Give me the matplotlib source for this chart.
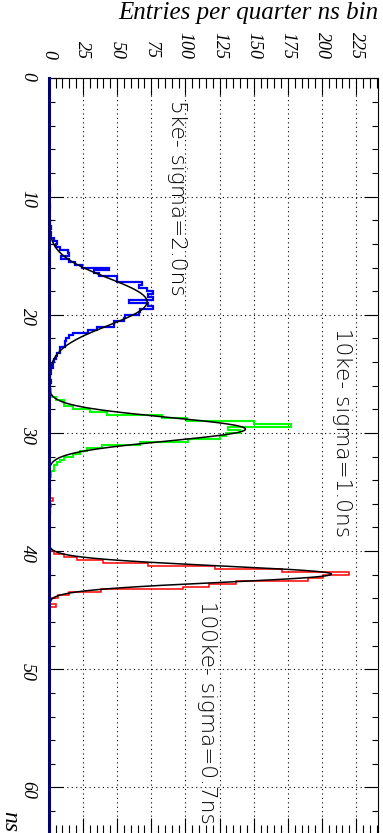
import matplotlib.pyplot as plt
import numpy as np
from matplotlib.ticker import MultipleLocator

# histogram contents, one value per quarter ns bin, starting at t0 (ns)
bin_width = 0.25

t0_5ke = 8.0
counts_5ke = [
    0, 0, 0, 0, 0, 1, 0, 0,
    0, 0, 0, 1, 0, 0, 0, 0,
    1, 0, 2, 1, 2, 1, 4, 6,
    5, 8, 14, 15, 9, 15, 19, 24,
    44, 33, 37, 50, 50, 68, 66, 72,
    76, 73, 76, 59, 73, 76, 67, 66,
    56, 55, 48, 48, 35, 29, 18, 15,
    13, 12, 12, 8, 8, 6, 5, 4,
    3, 3, 2, 2, 1, 1, 2, 1,
    0, 1, 0, 0, 0, 0, 0, 0,
    0, 0, 0, 0, 0, 0, 0, 0,
    0, 0, 0, 0, 0, 0, 1, 0,
    0, 0, 0, 0, 0, 0, 0, 0,
    0, 0, 0, 1, 0, 0, 0, 0,
    0, 0, 1, 0, 0, 0, 0, 0,
]

t0_10ke = 22.0
counts_10ke = [
    0, 0, 0, 0, 0, 0, 1, 0,
    1, 1, 0, 1, 0, 1, 0, 0,
    1, 2, 1, 2, 5, 11, 11, 18,
    30, 43, 83, 101, 150, 177, 131, 140,
    130, 125, 102, 67, 39, 28, 23, 18,
    11, 8, 6, 4, 4, 2, 2, 1,
    1, 0, 0, 1, 0, 0, 0, 0,
    0, 0, 0, 0, 0, 0, 0, 0,
    0, 0, 1, 1, 0, 0, 0, 0,
    0, 0, 0, 0, 1, 1, 0, 0,
]

t0_100ke = 34.0
counts_100ke = [
    0, 0, 0, 0, 0, 0, 3, 1,
    2, 1, 0, 0, 0, 0, 0, 0,
    0, 0, 0, 0, 0, 0, 1, 0,
    4, 11, 21, 40, 73, 122, 171, 220,
    201, 190, 137, 117, 98, 38, 15, 7,
    2, 1, 5, 1, 0, 0, 0, 0,
    0, 0, 0, 0, 0, 0, 0, 1,
]

# gaussian fits: mean (ns), sigma (ns), height (entries)
fit_mean = [18.9, 29.68, 41.95]
fit_sigma = [2.0, 1.0, 0.7]
fit_height = [72, 144, 207]

labels = ["5ke- sigma=2.0ns", "10ke- sigma=1.0ns", "100ke- sigma=0.7ns"]
colors = ["#0000ff", "#00ff00", "#ff0000"]

fig = plt.figure(figsize=(3.83, 8.33), dpi=100)
ax = fig.add_axes([0.1272, -0.002, 0.8598, 0.9078])

hists = [(t0_5ke, counts_5ke), (t0_10ke, counts_10ke), (t0_100ke, counts_100ke)]
widths = [1.6, 1.5, 1.1]
for (t0, c), col, lw in zip(hists, colors, widths):
    c = np.array(c, dtype=float)
    edges = t0 + bin_width * np.arange(len(c) + 1)
    ax.stairs(c, edges, orientation="horizontal", color=col, lw=lw, zorder=3)

for m, s, h in zip(fit_mean, fit_sigma, fit_height):
    t = np.linspace(m - 3.6 * s, m + 3.6 * s, 200)
    ax.plot(h * np.exp(-0.5 * ((t - m) / s) ** 2), t, color="black", lw=1.1, zorder=4)

ax.set_xlim(0, 241)
ax.set_ylim(64, 0)

ax.xaxis.set_major_locator(MultipleLocator(25))
ax.xaxis.set_minor_locator(MultipleLocator(5))
ax.yaxis.set_major_locator(MultipleLocator(10))
ax.yaxis.set_minor_locator(MultipleLocator(2))

ax.tick_params(axis="both", which="both", direction="in", top=True, right=True, width=0.8)
ax.tick_params(axis="x", which="major", length=12, labeltop=True, labelbottom=False,
               labelrotation=-90, pad=14)
ax.tick_params(axis="x", which="minor", length=7)
ax.tick_params(axis="y", which="major", length=10, labelrotation=-90, pad=9)
ax.tick_params(axis="y", which="minor", length=4.5)

for lab in ax.get_xticklabels() + ax.get_yticklabels():
    lab.set_fontfamily("Liberation Serif")
    lab.set_fontstyle("italic")
    lab.set_fontsize(13)

ax.grid(True, which="major", color="black", lw=0.8, linestyle=(0, (1, 3)))

for sp in ax.spines.values():
    sp.set_linewidth(0.8)
ax.spines["left"].set_color("#000070")
ax.spines["left"].set_linewidth(2.2)
ax.spines["left"].set_zorder(5)

txt = dict(rotation=-90, ha="center", va="top", fontsize=15.6, fontweight="light",
           family="DejaVu Sans", color="black", zorder=6)
ax.text(94, 1.8, labels[0], **txt)
ax.text(215, 21.1, labels[1], **txt)
ax.text(116, 44.2, labels[2], **txt)

fig.text(0.987, 0.997, "Entries per quarter ns bin", ha="right", va="top",
         family="Liberation Serif", style="italic", fontsize=18)
fig.text(0.025, 0.014, "ns", ha="center", va="center", rotation=-90,
         family="Liberation Serif", style="italic", fontsize=17)

fig.savefig("out.png", dpi=100)
